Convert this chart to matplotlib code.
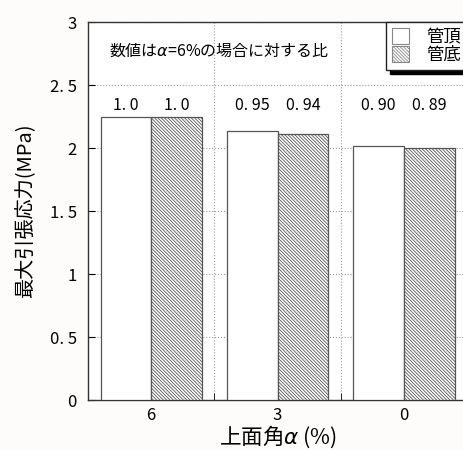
import matplotlib
matplotlib.use("Agg")
import matplotlib.pyplot as plt
import matplotlib.patches as mpatches
import numpy as np

plt.rcParams['font.family'] = ['Noto Sans CJK JP', 'DejaVu Sans']
plt.rcParams['hatch.color'] = '#9a9a9a'
plt.rcParams['hatch.linewidth'] = 0.6

# --- data ---
categories = ['6', '3', '0']
top_vals = [2.245, 2.135, 2.02]      # 管頂
bottom_vals = [2.245, 2.11, 2.00]    # 管底
top_ratio = ['1. 0', '0. 95', '0. 90']
bottom_ratio = ['1. 0', '0. 94', '0. 89']
series_names = ['管頂', '管底']
yticks = [0, 0.5, 1, 1.5, 2, 2.5, 3]
ytick_labels = ['0', '0. 5', '1', '1. 5', '2', '2. 5', '3']

bg = '#fdfcfa'
fig = plt.figure(figsize=(4.63, 4.5), dpi=100, facecolor=bg)
ax = fig.add_axes([0.190, 0.111, 0.819, 0.840])
ax.set_facecolor('white')

x = np.arange(len(categories))
w = 0.4
dense = '\\' * 10
ax.bar(x - w / 2, top_vals, w, color='white', edgecolor='#555555', linewidth=0.9, zorder=3)
ax.bar(x + w / 2, bottom_vals, w, color='white', edgecolor='#555555', linewidth=0.9,
       hatch=dense, zorder=3)

# ratio labels above the bars
label_y = 2.34
for i in range(len(categories)):
    ax.text(x[i] - w / 2, label_y, top_ratio[i], ha='center', va='center', fontsize=11.5, zorder=4)
    ax.text(x[i] + w / 2, label_y, bottom_ratio[i], ha='center', va='center', fontsize=11.5, zorder=4)

ax.text(-0.33, 2.77, '数値は$\\alpha$=6%の場合に対する比', ha='left', va='center', fontsize=11.5)

ax.set_xlim(-0.5, 2.5)
ax.set_ylim(0, 3)
ax.set_yticks(yticks)
ax.set_yticklabels(ytick_labels, fontsize=12)
ax.set_xticks(x)
ax.set_xticklabels(categories, fontsize=12)
ax.tick_params(axis='x', length=0, pad=5)
ax.set_xticks([0.5, 1.5], minor=True)
ax.tick_params(axis='x', which='minor', direction='in', length=5)
ax.tick_params(axis='y', direction='in', length=5, pad=8)

# dotted grid
ax.grid(axis='y', which='major', linestyle=':', color='#999999', linewidth=0.8, zorder=0)
ax.grid(axis='x', which='minor', linestyle=':', color='#999999', linewidth=0.8, zorder=0)
ax.set_axisbelow(True)

for s in ax.spines.values():
    s.set_color('#333333')
    s.set_linewidth(1.0)

ax.set_ylabel('最大引張応力(MPa)', fontsize=14.5, labelpad=10)
ax.set_xlabel('上面角$\\alpha$ (%)', fontsize=15.5, labelpad=0)

handles = [mpatches.Patch(facecolor='white', edgecolor='#888888', linewidth=0.8),
           mpatches.Patch(facecolor='white', edgecolor='#888888', linewidth=0.8, hatch=dense)]
leg = ax.legend(handles, series_names, loc='upper right', bbox_to_anchor=(1.0, 1.0),
                fontsize=12.5, frameon=True, fancybox=False,
                shadow={'color': 'black', 'alpha': 1.0, 'ox': 3, 'oy': -3},
                handlelength=1.0, handleheight=1.0, labelspacing=0.0,
                borderpad=0.35, handletextpad=1.0, borderaxespad=0.0)
leg.get_frame().set_edgecolor('#222222')
leg.get_frame().set_linewidth(1.0)

fig.savefig('out.png', dpi=100, facecolor=bg)
